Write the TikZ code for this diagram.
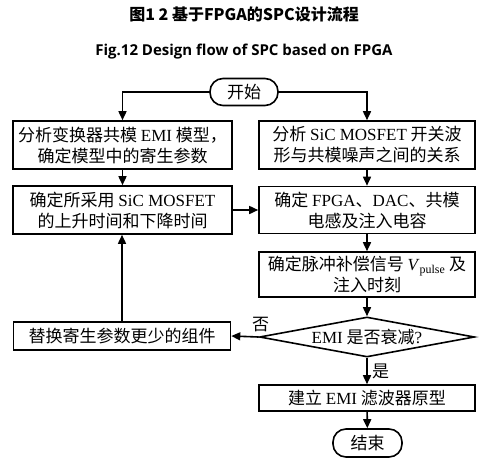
\documentclass[tikz,border=0pt]{standalone}
\usepackage{fontspec}
\setmainfont{Liberation Serif}
\newfontfamily\cjk{Noto Sans CJK SC}
\newfontfamily\figfont{Open Sans}
\usetikzlibrary{arrows.meta,shapes.geometric}
\newcommand{\tm}[1]{{\rmfamily #1}}

\begin{document}
\begin{tikzpicture}[x=1pt,y=-1pt,line width=1.6pt,font=\cjk\fontsize{17}{21}\selectfont,
  box/.style={draw,rectangle,align=center,inner sep=0pt},
  term/.style={draw,rectangle,rounded corners=13pt,minimum width=68pt,minimum height=27pt,inner sep=0pt},
  arr/.style={-{Triangle[length=9pt,width=8pt]}}]
\useasboundingbox (0,0) rectangle (487,460);

% titles
\node (title) at (244,14) {\bfseries\fontsize{16}{18}\selectfont 图1 2 基于FPGA的SPC设计流程};
\node (fig) at (244,52) {\figfont\bfseries\fontsize{15}{18}\selectfont Fig.12 Design flow of SPC based on FPGA};

% nodes
\node[term] (start) at (244,92) {开始};
\node[box,minimum width=219pt,minimum height=48pt] (model) at (122.5,145) {分析变换器共模 \tm{EMI} 模型，\\确定模型中的寄生参数};
\node[box,minimum width=219pt,minimum height=48pt] (rise) at (122.5,210) {确定所采用 \tm{SiC MOSFET}\\的上升时间和下降时间};
\node[box,minimum width=216pt,minimum height=48pt] (wave) at (367,145) {分析 \tm{SiC MOSFET} 开关波\\形与共模噪声之间的关系};
\node[box,minimum width=216pt,minimum height=47pt] (fpga) at (367,210) {确定 \tm{FPGA}、\tm{DAC}、共模\\电感及注入电容};
\node[box,minimum width=216pt,minimum height=45pt] (pulse) at (367,274.5) {确定脉冲补偿信号 \tm{\textit{V}\textsubscript{pulse}} 及\\注入时刻};
\node[draw,diamond,minimum width=215pt,minimum height=40pt,inner sep=0pt,label=center:{\tm{EMI} 是否衰减\tm{?}}] (emi) at (367,337) {};
\node[box,minimum width=217pt,minimum height=28pt] (swap) at (122,336) {替换寄生参数更少的组件};
\node[box,minimum width=216pt,minimum height=26pt] (filter) at (367,398) {建立 \tm{EMI} 滤波器原型};
\node[term,minimum width=69pt,minimum height=28pt] (stop) at (367.5,443) {结束};

% connectors
\draw[arr] (start.west) -| (model.north);
\draw[arr] (start.east) -| (wave.north);
\draw[arr] (model) -- (rise);
\draw[arr] (rise) -- (fpga);
\draw[arr] (wave) -- (fpga);
\draw[arr] (fpga) -- (pulse);
\draw[arr] (pulse) -- (emi);
\draw[arr] (emi.west) -- (swap.east) node[pos=0,anchor=south,xshift=2pt,yshift=1pt] {否};
\draw[arr] (emi.south) -- (filter.north) node[midway,right=1pt] {是};
\draw[arr] (filter) -- (stop);
\draw[arr] (swap.north) -- (swap.north |- rise.south);

\end{tikzpicture}
\end{document}
